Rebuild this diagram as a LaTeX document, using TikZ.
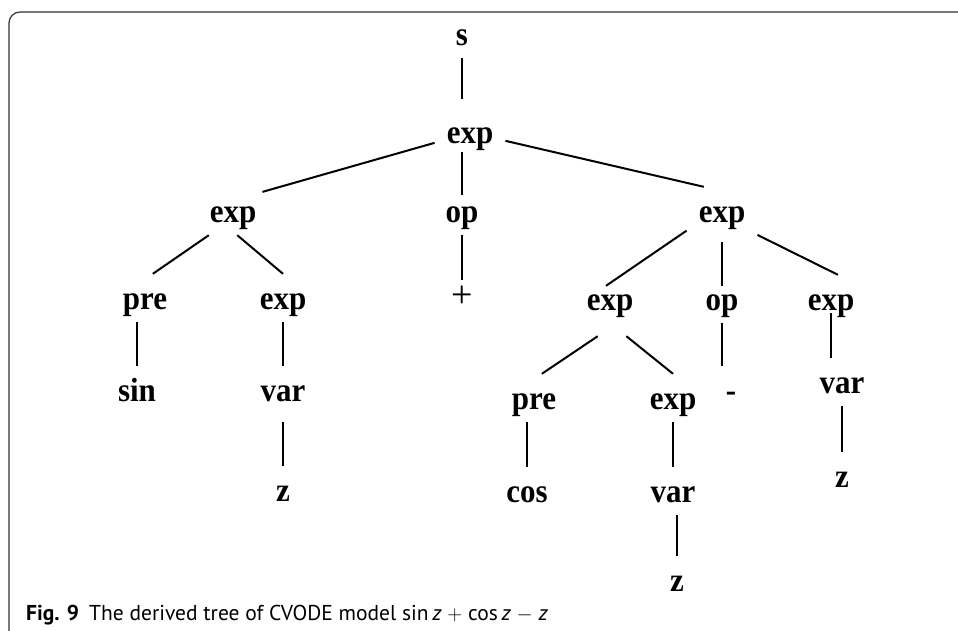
\documentclass[tikz,border=0pt]{standalone}
\usepackage{fontspec}
\setmainfont{Liberation Serif}
\newfontfamily\treefont[FakeStretch=0.925]{Liberation Serif}
\newfontfamily\capfont{PT Sans}

\begin{document}
\begin{tikzpicture}[
  x=1pt, y=-1pt,
  sym/.style={anchor=base, inner xsep=6pt, inner ysep=0pt, text height=35pt, text depth=13pt,
    font=\treefont\bfseries\fontsize{33.5}{33.5}\selectfont},
  wide/.style={inner xsep=12pt},
  branch/.style={line width=2pt}
]
\useasboundingbox (0,0) rectangle (958,630);

% frame
\draw[line width=1.2pt, black!80, rounded corners=11pt] (9,640) -- (9,12) -- (970,12);

% grammar symbols
\node[sym] (s) at (462,45) {s};
\node[sym, wide] (root) at (470,143) {exp};
\node[sym] (lexp) at (233,222) {exp};
\node[sym] (op) at (462,222) {op};
\node[sym, wide] (rexp) at (722,222) {exp};
\node[sym, font=\fontsize{38}{38}\selectfont] (plus) at (462,307) {+};
\node[sym] (lpre) at (145,309) {pre};
\node[sym] (lexp2) at (283,309) {exp};
\node[sym, text height=24pt, text depth=26pt] (mexp) at (610,310) {exp};
\node[sym] (rop) at (722,310) {op};
\node[sym] (rexp2) at (831,310) {exp};
\node[sym] (sin) at (137,401) {sin};
\node[sym] (lvar) at (283,401) {var};
\node[sym] (minus) at (731,401) {-};
\node[sym] (rvar) at (842,393) {var};
\node[sym] (lz) at (283,501) {z};
\node[sym] (mpre) at (534,409) {pre};
\node[sym] (mexp2) at (673,409) {exp};
\node[sym] (cos) at (527,502) {cos};
\node[sym] (mvar) at (673,502) {var};
\node[sym] (rz) at (842,487) {z};
\node[sym] (mz) at (677,591) {z};

% branches
\draw[branch, shorten >=9pt] (s) -- (s |- root.north);
\draw[branch, shorten <=-4pt, shorten >=-8pt] (op |- root.south) -- (op);
\draw[branch, shorten >=-8pt] (op) -- (plus);
\draw[branch] (root.197) -- (lexp.33);
\draw[branch] (root.346) -- (rexp.127);
\draw[branch] (lexp.225) -- (lpre.72);
\draw[branch] (lexp.280) -- (lexp2.north);
\draw[branch] (sin |- lpre.south) -- (sin);
\draw[branch] (lexp2) -- (lvar);
\draw[branch, shorten <=8pt] (lvar) -- (lz);
\draw[branch] (rexp.209) -- (mexp.99);
\draw[branch, shorten <=7pt, shorten >=-11pt] (rexp) -- (rop);
\draw[branch] (rexp.326) -- (rexp2.74);
\draw[branch] (rop) -- (rop |- minus.north);
\draw[branch, shorten <=-10pt] (rexp2) -- (rexp2 |- rvar.north);
\draw[branch] (rvar) -- (rz);
\draw[branch] (mexp.244) -- (mpre.72);
\draw[branch] (mexp.303) -- (mexp2.north);
\draw[branch] (cos |- mpre.south) -- (cos);
\draw[branch] (mexp2) -- (mvar);
\draw[branch] (mz |- mvar.south) -- (mz);

% caption
\node[anchor=base west, inner sep=0pt, font=\capfont\fontsize{21.5}{21.5}\selectfont] (caption) at (26,620)
  {\textbf{Fig. 9}\hspace{10pt}The derived tree of CVODE model sin\,\textit{z} $+$ cos\,\textit{z} $-$ \textit{z}};
\end{tikzpicture}
\end{document}
